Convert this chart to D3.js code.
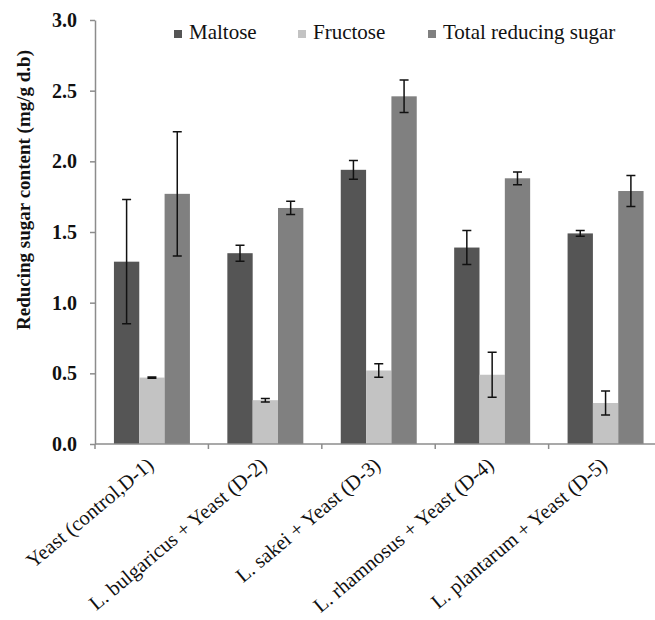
<!DOCTYPE html>
<html>
<head>
<meta charset="utf-8">
<script src="https://cdn.jsdelivr.net/npm/d3@7"></script>
<style>
    body { margin: 0; background: #fff; }
    text { font-family: "Liberation Serif", "Times New Roman", serif; }
</style>
</head>
<body>
<div id="chart"></div>
<script>
const categories = [
    "Yeast (control,D-1)",
    "L. bulgaricus + Yeast (D-2)",
    "L. sakei + Yeast (D-3)",
    "L. rhamnosus + Yeast (D-4)",
    "L. plantarum + Yeast (D-5)"
];
const seriesNames = ["Maltose", "Fructose", "Total reducing sugar"];
const maltose = [1.29, 1.35, 1.94, 1.39, 1.49];
const maltoseErr = [0.44, 0.057, 0.066, 0.12, 0.02];
const fructose = [0.47, 0.31, 0.52, 0.49, 0.29];
const fructoseErr = [0.004, 0.012, 0.047, 0.16, 0.085];
const total = [1.77, 1.67, 2.46, 1.88, 1.79];
const totalErr = [0.44, 0.047, 0.115, 0.045, 0.11];
const yTicks = [0, 0.5, 1.0, 1.5, 2.0, 2.5, 3.0];

const colors = ["#555555", "#c3c3c3", "#808080"];
const values = [maltose, fructose, total];
const errors = [maltoseErr, fructoseErr, totalErr];

const width = 655;
const height = 620;

const svg = d3.select("#chart")
    .append("svg")
    .attr("width", width)
    .attr("height", height);

const x = d3.scaleBand()
    .domain(categories)
    .range([95, 662.5])
    .paddingInner(0.33)
    .paddingOuter(0.167);

const xSub = d3.scaleBand()
    .domain(seriesNames)
    .range([0, x.bandwidth()]);

const y = d3.scaleLinear()
    .domain([0, 3])
    .range([444, 20]);

// y axis
const yAxis = svg.append("g")
    .attr("transform", "translate(95,0)")
    .call(d3.axisLeft(y).tickValues(yTicks).tickFormat(d3.format(".1f")).tickSize(5).tickSizeOuter(0).tickPadding(13));
yAxis.select(".domain").attr("stroke", "#8c8c8c").attr("stroke-width", 1.5);
yAxis.selectAll(".tick line").attr("stroke", "#8c8c8c").attr("stroke-width", 1.5);
yAxis.selectAll(".tick text")
    .style("font-family", "Liberation Serif")
    .style("font-size", "20px")
    .style("font-weight", "bold")
    .attr("fill", "#111");

// bars
const groups = svg.selectAll(".group")
    .data(categories)
    .join("g")
    .attr("class", "group")
    .attr("transform", d => `translate(${x(d)},0)`);

seriesNames.forEach((s, si) => {
    groups.append("rect")
        .attr("x", xSub(s))
        .attr("y", (d, i) => y(values[si][i]))
        .attr("width", xSub.bandwidth())
        .attr("height", (d, i) => y(0) - y(values[si][i]))
        .attr("fill", colors[si]);
});

// error bars
seriesNames.forEach((s, si) => {
    const cx = xSub(s) + xSub.bandwidth() / 2;
    groups.append("path")
        .attr("d", (d, i) => {
            const top = y(values[si][i] + errors[si][i]);
            const bot = y(values[si][i] - errors[si][i]);
            return `M${cx},${top}V${bot}M${cx - 4.5},${top}H${cx + 4.5}M${cx - 4.5},${bot}H${cx + 4.5}`;
        })
        .attr("fill", "none")
        .attr("stroke", "#111")
        .attr("stroke-width", 1.5);
});

// x axis
svg.append("line")
    .attr("x1", 95).attr("x2", 662.5)
    .attr("y1", y(0)).attr("y2", y(0))
    .attr("stroke", "#8c8c8c").attr("stroke-width", 1.5);

const boundaries = d3.range(categories.length + 1).map(i => x.range()[0] + i * x.step());
svg.selectAll(".xtick")
    .data(boundaries)
    .join("line")
    .attr("x1", d => d).attr("x2", d => d)
    .attr("y1", y(0)).attr("y2", y(0) + 5)
    .attr("stroke", "#8c8c8c").attr("stroke-width", 1.5);

svg.selectAll(".xlabel")
    .data(categories)
    .join("text")
    .attr("transform", d => `translate(${x(d) + x.bandwidth() / 2 + 3},467) rotate(-40)`)
    .style("text-anchor", "end")
    .style("font-size", "20.5px")
    .attr("fill", "#111")
    .text(d => d);

// y title
svg.append("text")
    .attr("transform", "translate(30,190) rotate(-90)")
    .style("text-anchor", "middle")
    .style("font-size", "19px")
    .style("font-weight", "bold")
    .attr("fill", "#111")
    .text("Reducing sugar content (mg/g d.b)");

// legend
const legendX = [174, 298, 428];
const legend = svg.selectAll(".legend")
    .data(seriesNames)
    .join("g")
    .attr("transform", (d, i) => `translate(${legendX[i]},30)`);
legend.append("rect")
    .attr("width", 8).attr("height", 8)
    .attr("fill", (d, i) => colors[i]);
legend.append("text")
    .attr("x", 15).attr("y", 9)
    .style("font-size", "21px")
    .attr("fill", "#111")
    .text(d => d);
</script>
</body>
</html>
